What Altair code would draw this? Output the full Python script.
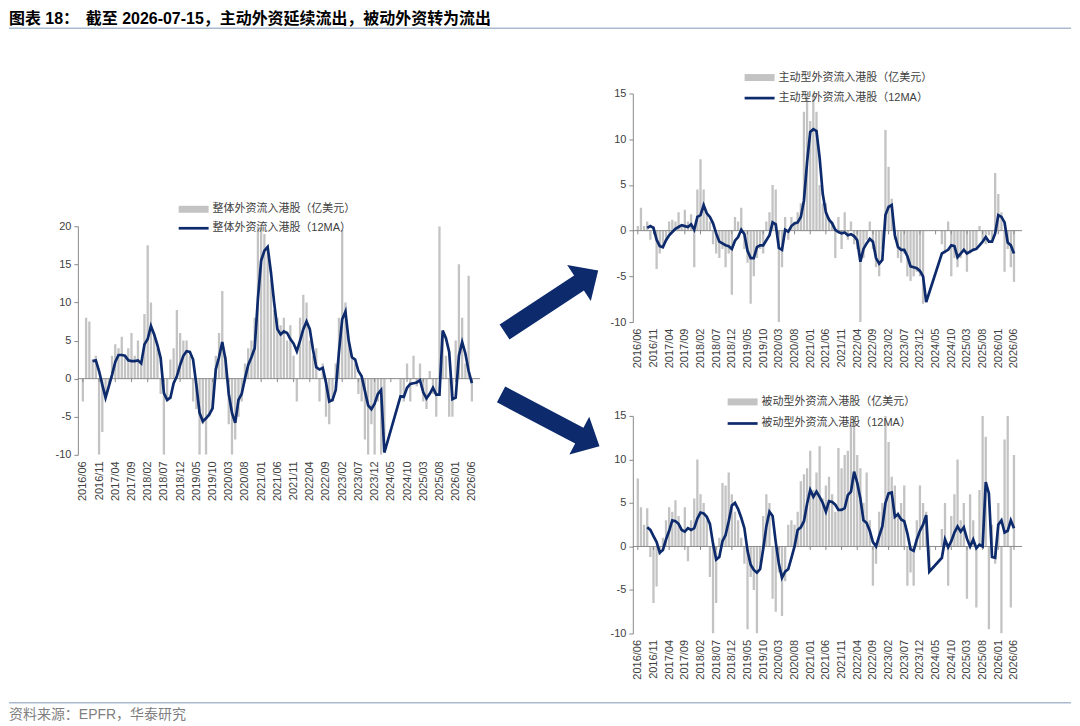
import altair as alt
import pandas as pd

months = list(range(121))
tick_pos = list(range(0, 121, 5))
tick_labels = ["2016/06", "2016/11", "2017/04", "2017/09", "2018/02", "2018/07", "2018/12",
               "2019/05", "2019/10", "2020/03", "2020/08", "2021/01", "2021/06", "2021/11",
               "2022/04", "2022/09", "2023/02", "2023/07", "2023/12", "2024/05", "2024/10",
               "2025/03", "2025/08", "2026/01", "2026/06"]

title_prefix = "图表 18："
title_main = "截至 2026-07-15，主动外资延续流出，被动外资转为流出"
source_text = "资料来源：EPFR，华泰研究"

total_legend = ["整体外资流入港股（亿美元）", "整体外资流入港股（12MA）"]
active_legend = ["主动型外资流入港股（亿美元）", "主动型外资流入港股（12MA）"]
passive_legend = ["被动型外资流入港股（亿美元）", "被动型外资流入港股（12MA）"]

total_bar = [
    -3, 8, 7.5, 2.5, 3, -10, -7, -2, -1, 3,
    4.5, 4, 5.5, 3, 4, 6, 3, 5, 2, 8.5,
    17.5, 10, 6, 4, -2, -10, -3, 2.5, 4, 9,
    6, 5, 5, 3, -3, -4, -10, -6, -10, -5,
    -4, 3, 6, 11.5, 3, -6, -10, -8, -5, -3,
    2, 4, 5, 8, 20, 20, 19, 17, 13, 9,
    8, 7, 8, 5, 7, 3, -3, 8, 11, 10,
    5, 3, 4, -3, 2, -5, -6, -3, 2, 8,
    19.5, 10, 5, 3, 2, -2, -3, -8, -10, -6,
    -10, -3, -10, -9, None, None, None, None, -2, -3,
    2, -3, 3, -1, 2, -3, -4, 1, -2, -5,
    20, 6, 3, -5, -5, 5, 15, 8, 2, 13.5,
    -3]
total_ma = [
    None, None, None, 2.3, 2.4, 1.0, -0.8, -2.5, -1.0, 0.5,
    2.2, 3.1, 3.1, 3.0, 2.4, 2.3, 2.3, 2.4, 2.0, 4.5,
    5.2, 6.9, 5.8, 4.4, 2.7, -1.9, -2.8, -2.5, -0.6, 0.3,
    1.8, 3.0, 3.6, 3.5, 2.5, -0.8, -4.5, -5.6, -5.2, -4.7,
    -3.9, 1.2, 2.8, 4.8, 2.5, -2.0, -4.5, -5.8, -2.8, -2.0,
    0.0, 1.8, 2.8, 4.0, 10.5, 15.5, 16.8, 17.3, 14.0, 10.0,
    6.5, 5.8, 6.2, 6.0, 5.2, 4.6, 3.6, 5.0, 6.5, 7.5,
    6.5, 3.8, 1.5, 1.2, 1.4, -0.5, -3.0, -2.8, -1.5, 3.5,
    7.8, 8.8, 5.0, 2.8, 2.5, 1.0, 0.3, -1.6, -3.5, -4.0,
    -3.3, -2.0, -1.5, -9.7, None, None, None, None, -2.3, -2.4,
    -1.2, -0.7, -0.6, -0.5, -0.2, -1.8, -2.6, -2.0, -1.2, -2.1,
    -2.1, 6.3, 5.3, 3.5, -2.7, -2.5, 3.0, 4.8, 3.3, 1.0,
    -0.6]

active_bar = [
    0.5, 2.5, 0.5, 1.0, -1.0, 0.5, -4.2, -2.5, -2.0, -1.0,
    1.0, 1.2, 1.0, 2.0, 0.5, 2.3, 1.0, 1.8, -4.0, 4.5,
    7.8, 4.5, 2.0, 1.0, -1.5, -2.5, -3.0, -2.0, -4.0, -2.5,
    -7.0, 1.5, 1.0, 2.5, -2.0, -3.5, -8.0, -5.0, -3.0, -2.0,
    -2.5, 1.0, 2.0, 5.0, 4.5, -10.0, -4.0, 1.5, -1.0, 1.5,
    1.0, 2.0, 3.0, 13.0, 15.0, 12.0, 15.0, 13.0, 5.0, 3.0,
    3.0, 1.5, 1.0, -3.0, 1.5, -2.0, 2.0, -1.0, 1.0, -1.5,
    -2.0, -10.0, -3.0, -1.0, 1.0, -2.0, -4.0, -5.0, -2.0, 11.0,
    7.0, 3.5, -1.0, -3.0, -3.5, -2.5, -5.0, -5.5, -5.0, -4.5,
    -5.0, -8.0, None, None, None, None, None, -1.5, -2.5, 1.0,
    -5.0, -3.0, -4.0, -3.0, -2.0, -4.5, -2.5, -2.0, -2.0, 0.5,
    -1.0, -1.5, -0.5, -1.0, 6.3, 4.0, 2.0, -4.5, -2.0, -4.0,
    -5.6]
active_ma = [
    None, None, None, 0.3, 0.5, 0.3, -1.0, -1.7, -1.8, -1.05,
    -0.5, -0.15, 0.2, 0.4, 0.6, 0.5, 0.4, 0.7, 0.1, 1.5,
    1.7, 2.8, 1.9, 1.5, 0.8, -0.3, -1.2, -1.4, -1.6, -1.7,
    -2.0, -1.1, -0.7, 0.1, -0.4, -2.2, -3.0, -3.0, -1.8, -1.6,
    -1.6, -1.05, -0.5, 0.9, 0.7, -1.9, -2.1, 0.1, -0.1, 0.5,
    0.8, 0.9, 1.5, 3.3, 7.5, 10.8, 11.1, 10.9, 8.0, 4.0,
    2.0, 1.2, 0.8, 0.1, -0.15, -0.3, -0.2, -0.5, -0.4, -0.6,
    -1.05, -3.4, -2.0, -1.4, -0.9, -1.2, -3.0, -3.6, -3.2, 1.7,
    2.6, 2.8, -0.5, -1.8, -2.1, -2.1, -2.8, -3.9, -4.0, -4.1,
    -4.4, -5.0, -7.8, None, None, None, None, -2.5, -2.3, -2.1,
    -1.6, -1.7, -2.9, -2.5, -2.1, -2.5, -2.3, -2.1, -2.0, -1.6,
    -1.2, -0.7, -1.2, -1.2, -0.3, 1.7, 1.5, 0.9, -1.3, -1.6,
    -2.5]

passive_bar = [
    7.8, 4.5, 2.5, 4.4, -1.2, -6.5, -4.6, -1.0, 1.0, 3.0,
    4.5, 4.0, 5.3, 3.5, 2.0, 4.5, -1.7, 3.0, 5.5, 10.0,
    6.0, 5.0, 3.0, -3.5, -10.0, -6.5, 1.0, 7.3, 7.0, 8.5,
    6.0, 4.0, 3.0, 1.0, -2.0, -9.5, -3.5, -5.0, -10.0, -2.0,
    3.5, 6.0, 5.0, -6.0, -7.5, -3.0, -8.0, -4.0, 2.5, 3.0,
    2.5, 4.0, 7.5, 8.3, 9.0, 11.0, 6.5, 8.5, 11.5, 5.5,
    7.0, 8.0, 6.0, 4.0, 11.3, 9.0, 10.5, 11.0, 14.0, 15.0,
    10.5, 9.0, 5.0, 8.5, 3.0, -4.5, -2.0, 4.0, 5.0, 15.0,
    12.0, 8.0, 7.0, 4.0, 5.0, 7.0, -4.5, -3.0, -4.5, 3.0,
    7.0, 5.0, 4.0, -2.5, None, None, None, 2.0, 5.0, -4.5,
    3.5, 6.0, 10.0, 3.0, 5.0, -6.0, 6.0, 3.0, -7.0, 6.5,
    15.0, 12.6, -9.5, 2.5, -2.0, 5.0, -10.0, 12.3, 15.0, -7.0,
    10.5]
passive_ma = [
    None, None, None, 2.2, 1.9, 1.2, 0.5, -0.7, -0.4, 0.8,
    1.8, 3.0, 2.9, 2.6, 1.9, 1.7, 2.1, 1.9, 2.1, 3.2,
    3.9, 3.8, 3.4, 2.6, 0.3, -1.5, -1.2, 0.6, 1.3, 2.9,
    4.7, 5.0, 4.3, 3.3, 2.1, -0.5, -2.1, -2.7, -3.0, -2.6,
    -0.3, 2.3, 4.0, 3.5, 0.5, -2.0, -3.6, -2.9, -2.6, -1.3,
    0.0, 1.9, 2.2, 2.9, 4.9, 6.5, 5.7, 6.3, 5.7, 5.0,
    4.0, 5.2, 5.1, 4.8, 4.2, 4.2, 4.4, 5.9, 6.3, 8.6,
    7.3, 5.5, 3.0, 2.7, 1.8, 0.5, 0.0, 1.2, 2.3, 5.0,
    6.1, 6.2, 3.4, 3.7, 3.1, 2.9, 1.5, -0.3, -0.5, 0.8,
    1.8, 2.5, 3.6, -2.9, None, None, None, -1.3, 0.8, -0.1,
    0.6, 1.6, 2.3, 1.7, 2.2, 0.9, 0.0, 0.8, -0.2, 0.2,
    0.0, 7.4, 6.1, -1.2, -1.3, 2.5, 3.0, 1.6, 1.8, 3.0,
    2.1]

for arr in (total_bar, total_ma, active_bar, active_ma, passive_bar, passive_ma):
    assert len(arr) == 121

NAVY = "#0c2a6c"
GREY = "#c3c3c3"
AXIS = "#8a8a8a"
LABEL = "#404040"
FONT = "Liberation Sans"
MIXED = "Liberation Sans, Noto Sans CJK SC"

label_expr = "[" + ",".join("'%s'" % t for t in tick_labels) + "][round(datum.value/5)]"
ARROW = "M -1 -0.16 L 0.59 -0.16 L 0.59 -0.384 L 1 0 L 0.59 0.384 L 0.59 0.16 L -1 0.16 Z"


def panel(bar_vals, ma_vals, ymin, ymax, width, height, texts, leg_x, leg_y1, leg_y2, tick_depth, extra=()):
    df = pd.DataFrame({"m": months, "bar": bar_vals, "ma": ma_vals})
    xs = alt.Scale(domain=[0, 121], nice=False, zero=False)
    ys = alt.Scale(domain=[ymin, ymax], nice=False, zero=False)
    xaxis = alt.Axis(values=tick_pos, labelExpr=label_expr, labelAngle=270, labelAlign="right",
                     labelBaseline="middle", labelPadding=6, labelFont=FONT, labelFontSize=11,
                     labelColor=LABEL, domain=False, ticks=False, grid=False, labelOverlap=False,
                     labelFlush=False, title=None)
    yaxis = alt.Axis(values=list(range(ymin, ymax + 1, 5)), labelExpr="'' + datum.value",
                     labelFont=FONT, labelFontSize=11, labelColor=LABEL, domainColor=AXIS,
                     tickColor=AXIS, tickSize=4, labelPadding=3, grid=False, title=None)
    X = lambda f: alt.X(f, scale=xs, axis=xaxis)
    Y = lambda f: alt.Y(f, scale=ys, axis=yaxis)
    base = alt.Chart(df)
    bars = base.mark_bar(width=2.3, color=GREY, clip=True).encode(x=X("m:Q"), y=Y("bar:Q"))
    zdf = pd.DataFrame({"z": [0]})
    zero = alt.Chart(zdf).mark_rule(color=AXIS, strokeWidth=1).encode(y=Y("z:Q"))
    tdf = pd.DataFrame({"t": tick_pos, "z0": [0] * len(tick_pos), "z1": [-tick_depth] * len(tick_pos)})
    ticks = alt.Chart(tdf).mark_rule(color=AXIS, strokeWidth=1).encode(x=X("t:Q"), y=Y("z0:Q"), y2="z1:Q")
    line = base.transform_filter("isValid(datum.ma)").mark_line(
        color=NAVY, strokeWidth=2.7, clip=True).encode(x=X("m:Q"), y=Y("ma:Q"))
    l1 = pd.DataFrame({"label": [texts[0]]})
    l2 = pd.DataFrame({"label": [texts[1]]})
    sw1 = alt.Chart(l1).mark_rule(color=GREY, strokeWidth=7).encode(
        x=alt.value(leg_x), x2=alt.value(leg_x + 30), y=alt.value(leg_y1))
    tx1 = alt.Chart(l1).mark_text(align="left", baseline="middle", font=MIXED, fontSize=11,
                                  color=LABEL).encode(text="label:N", x=alt.value(leg_x + 34), y=alt.value(leg_y1))
    sw2 = alt.Chart(l2).mark_rule(color=NAVY, strokeWidth=2.7).encode(
        x=alt.value(leg_x), x2=alt.value(leg_x + 30), y=alt.value(leg_y2))
    tx2 = alt.Chart(l2).mark_text(align="left", baseline="middle", font=MIXED, fontSize=11,
                                  color=LABEL).encode(text="label:N", x=alt.value(leg_x + 34), y=alt.value(leg_y2))
    return alt.layer(bars, zero, ticks, line, sw1, tx1, sw2, tx2, *extra).properties(width=width, height=height)


adf = pd.DataFrame({"a": [0]})
arrow1 = alt.Chart(adf).mark_point(shape=ARROW, filled=True, color=NAVY, opacity=1, size=12600,
                                   angle=326.7, strokeWidth=0).encode(x=alt.value(474.4), y=alt.value(75.1))
arrow2 = alt.Chart(adf).mark_point(shape=ARROW, filled=True, color=NAVY, opacity=1, size=12400,
                                   angle=27.7, strokeWidth=0).encode(x=alt.value(473.3), y=alt.value(194.4))

left = panel(total_bar, total_ma, -10, 20, 403, 229, total_legend, 101, -17, 2, 0.45, (arrow1, arrow2))
top_right = panel(active_bar, active_ma, -10, 15, 390, 229, active_legend, 112, -16, 4.6, 0.4)
bottom_right = panel(passive_bar, passive_ma, -10, 15, 390, 218, passive_legend, 95, -14, 7.6, 0.4)

spacer = alt.Chart(adf).mark_point(opacity=0).encode(x=alt.value(0), y=alt.value(0)).properties(width=10, height=110)

left_col = alt.vconcat(spacer, left, spacing=0)
right_col = alt.vconcat(top_right, bottom_right, spacing=28)
body = alt.hconcat(left_col, right_col, spacing=10)

OFF = -69
HW = 995
h1 = alt.Chart(pd.DataFrame({"t": [title_prefix]})).mark_text(
    align="left", baseline="alphabetic", font=MIXED, fontSize=16, fontWeight="bold", color="#000000"
).encode(text="t:N", x=alt.value(OFF), y=alt.value(15))
h2 = alt.Chart(pd.DataFrame({"t": [title_main]})).mark_text(
    align="left", baseline="alphabetic", font=MIXED, fontSize=16, fontWeight="bold", color="#000000"
).encode(text="t:N", x=alt.value(OFF + 77), y=alt.value(15))
hr = alt.Chart(adf).mark_rule(color="#a9bccf", strokeWidth=1.5).encode(
    x=alt.value(OFF), x2=alt.value(HW), y=alt.value(19.5))
header = alt.layer(h1, h2, hr).properties(width=HW, height=63)

f1 = alt.Chart(pd.DataFrame({"t": [source_text]})).mark_text(
    align="left", baseline="middle", font=MIXED, fontSize=14, color="#7f7f7f"
).encode(text="t:N", x=alt.value(OFF), y=alt.value(36))
fr = alt.Chart(adf).mark_rule(color="#a9bccf", strokeWidth=1.5).encode(
    x=alt.value(OFF), x2=alt.value(HW), y=alt.value(23.4))
footer = alt.layer(fr, f1).properties(width=HW, height=44)

chart = alt.vconcat(header, body, footer, spacing=0).properties(
    padding={"left": 0, "top": 0, "right": 0, "bottom": 0}
).configure_view(strokeWidth=0)

chart.save("out.html", embed_options={"renderer": "svg", "actions": False})
